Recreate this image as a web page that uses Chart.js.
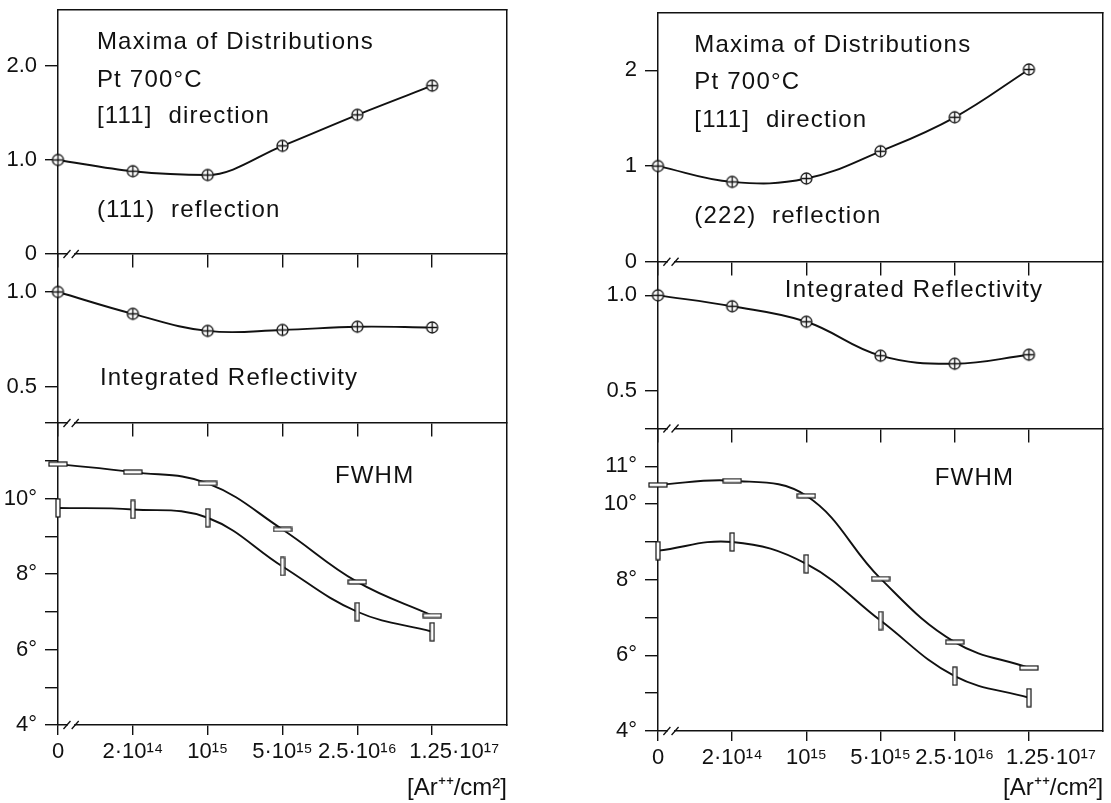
<!DOCTYPE html>
<html>
<head>
<meta charset="utf-8">
<script src="https://cdn.jsdelivr.net/npm/chart.js@4.4.1/dist/chart.umd.min.js"></script>
<style>
  html, body { margin: 0; padding: 0; background: #fff; }
  body { width: 1111px; height: 803px; position: relative; overflow: hidden; }
  canvas { position: absolute; top: 0; }
  #chartLeft { left: 0; }
  #chartRight { left: 600px; }
</style>
</head>
<body>
<canvas id="chartLeft" width="520" height="803"></canvas>
<canvas id="chartRight" width="511" height="803"></canvas>
<script>
// ==================== DADOS ====================
const doseLabels = ['0', '2·10¹⁴', '10¹⁵', '5·10¹⁵', '2.5·10¹⁶', '1.25·10¹⁷'];
const doseUnit = '[Ar⁺⁺/cm²]';

// (111) reflection - coluna esquerda
const maxima111 = [1.0, 0.88, 0.84, 1.15, 1.48, 1.79];
const reflect111 = [1.0, 0.885, 0.795, 0.80, 0.817, 0.813];
const fwhmUpper111 = [10.91, 10.70, 10.40, 9.18, 7.79, 6.90];
const fwhmLower111 = [9.75, 9.71, 9.49, 8.2, 7.0, 6.47];

// (222) reflection - coluna direita
const maxima222 = [1.0, 0.835, 0.87, 1.155, 1.51, 2.01];
const reflect222 = [1.0, 0.943, 0.862, 0.685, 0.643, 0.69];
const fwhmUpper222 = [10.51, 10.62, 10.22, 8.03, 6.35, 5.67];
const fwhmLower222 = [8.77, 9.0, 8.42, 6.92, 5.45, 4.88];

// ticks dos eixos y
const maximaTicks = [0, 1, 2];
const maximaLabels111 = ['0', '1.0', '2.0'];
const maximaLabels222 = ['0', '1', '2'];
const reflectTicks = [0.5, 1.0];
const reflectLabels = ['0.5', '1.0'];
const fwhmTicks = [4, 5, 6, 7, 8, 9, 10, 11];
const fwhmLabels111 = ['4°', '', '6°', '', '8°', '', '10°', ''];
const fwhmLabels222 = ['4°', '', '6°', '', '8°', '', '10°', '11°'];

// ==================== ESTILO ====================
const FONT = '"Liberation Sans", Arial, sans-serif';
const INK = '#111';

function markerCirclePlus() {
    const c = document.createElement('canvas');
    c.width = 15; c.height = 15;
    const g = c.getContext('2d');
    g.fillStyle = '#fff'; g.strokeStyle = INK; g.lineWidth = 1.3;
    g.beginPath(); g.arc(7.5, 7.5, 5.5, 0, Math.PI * 2); g.fill(); g.stroke();
    g.beginPath();
    g.moveTo(2.5, 7.5); g.lineTo(12.5, 7.5);
    g.moveTo(7.5, 2.5); g.lineTo(7.5, 12.5);
    g.stroke();
    return c;
}

function markerBar(w, h) {
    const c = document.createElement('canvas');
    c.width = w + 2; c.height = h + 2;
    const g = c.getContext('2d');
    g.fillStyle = '#fff'; g.strokeStyle = INK; g.lineWidth = 1.2;
    g.fillRect(1, 1, w, h); g.strokeRect(1, 1, w, h);
    return c;
}

const circlePlus = markerCirclePlus();
const barFlat = markerBar(18, 4);
const barTall = markerBar(4, 18);

// ==================== PLUGIN: TEXTOS E QUEBRAS ====================
const notesPlugin = {
    id: 'notes',
    afterDraw(chart, args, opts) {
        const { ctx, scales } = chart;
        const x = scales.x;
        ctx.save();
        // marcas '//' nas linhas de base de cada painel
        ['yTop', 'yMid', 'yBot'].forEach(id => {
            const yPix = scales[id].bottom;
            const xa = x.getPixelForValue(0.12), xb = x.getPixelForValue(0.23);
            ctx.fillStyle = '#fff';
            ctx.fillRect(xa + 1, yPix - 2, xb - xa - 2, 4);
            ctx.strokeStyle = INK; ctx.lineWidth = 1.3;
            ctx.beginPath();
            [xa, xb].forEach(p => { ctx.moveTo(p - 3.5, yPix + 4); ctx.lineTo(p + 3.5, yPix - 4); });
            ctx.stroke();
        });
        ctx.fillStyle = INK;
        ctx.font = `24px ${FONT}`;
        ctx.letterSpacing = '1.2px';
        ctx.textAlign = 'left';
        ctx.textBaseline = 'alphabetic';
        opts.notes.forEach(n => {
            ctx.fillText(n.text, x.getPixelForValue(n.x), scales[n.axis].getPixelForValue(n.y));
        });
        ctx.restore();
    }
};

// ==================== MONTAGEM DE UMA COLUNA ====================
function buildColumn(canvasId, col) {
    const tickFont = { family: FONT, size: 22 };
    const series = (values, axis, marker, mode) => ({
        data: values.map((v, i) => ({ x: i, y: v })),
        xAxisID: 'x', yAxisID: axis,
        borderColor: INK, borderWidth: 1.9, tension: 0.4, fill: false,
        cubicInterpolationMode: mode || 'default',
        clip: false,
        pointStyle: marker, pointRadius: 6, pointHoverRadius: 6
    });
    const yScale = (range, values, labels, weight, stackWeight) => ({
        type: 'linear', position: 'left', stack: 'col', stackWeight, weight,
        min: range[0], max: range[1],
        afterBuildTicks: s => { s.ticks = values.map(v => ({ value: v })); },
        afterFit: s => { s.width = col.axisWidth; s.paddingTop = 0; s.paddingBottom = 0; },
        ticks: { callback: (v, i) => labels[i], font: tickFont, color: INK, padding: 8, autoSkip: false },
        grid: { drawOnChartArea: false, tickLength: 13, color: INK, lineWidth: 1.4 },
        border: { color: INK, width: 1.5 }
    });
    const sepAxis = (axisId, value, ticks) => ({
        type: 'linear', position: { [axisId]: value }, min: 0, max: 6,
        afterBuildTicks: s => { s.ticks = ticks ? doseLabels.map((_, i) => ({ value: i })) : []; },
        ticks: { display: false },
        grid: { drawOnChartArea: false, drawTicks: ticks, tickLength: 13, color: INK, lineWidth: 1.4 },
        border: { color: INK, width: 1.5 }
    });
    // o último rótulo fica deslocado para a direita no original
    const doseTick = (v, i) => i === doseLabels.length - 1 ? '\u2003\u2003' + doseLabels[i] : doseLabels[i];

    return new Chart(document.getElementById(canvasId), {
        type: 'line',
        data: {
            datasets: [
                series(col.maxima, 'yTop', circlePlus, col.maximaMode),
                series(col.reflect, 'yMid', circlePlus),
                series(col.fwhmUpper, 'yBot', barFlat),
                series(col.fwhmLower, 'yBot', barTall)
            ]
        },
        plugins: [notesPlugin],
        options: {
            responsive: false,
            devicePixelRatio: 1,
            animation: false,
            events: [],
            layout: { padding: { top: col.padTop, right: col.padRight, left: 0, bottom: 0 } },
            plugins: {
                legend: { display: false },
                tooltip: { enabled: false },
                notes: { notes: col.notes }
            },
            scales: {
                x: {
                    type: 'linear', position: 'bottom', min: 0, max: 6,
                    afterBuildTicks: s => { s.ticks = doseLabels.map((_, i) => ({ value: i })); },
                    afterFit: s => { s.height = col.xHeight; s.paddingLeft = 0; s.paddingRight = 0; },
                    ticks: {
                        callback: doseTick, font: tickFont, color: INK,
                        padding: 4, maxRotation: 0, autoSkip: false
                    },
                    grid: { drawOnChartArea: false, tickLength: 10, color: INK, lineWidth: 1.4 },
                    border: { color: INK, width: 1.5 },
                    title: {
                        display: true, text: doseUnit, align: 'end', color: INK,
                        font: { family: FONT, size: 24 }, padding: { top: 0, bottom: 0 }
                    }
                },
                yBot: yScale([4, 12], fwhmTicks, col.fwhmLabels, 1, col.weights[2]),
                yMid: yScale(col.reflectRange, [col.reflectRange[0]].concat(reflectTicks), [''].concat(reflectLabels), 2, col.weights[1]),
                yTop: yScale([0, 2.6], maximaTicks, col.maximaLabels, 3, col.weights[0]),
                xSepTop: sepAxis('yTop', 0, true),
                xSepMid: sepAxis('yMid', col.reflectRange[0], true),
                xFrameTop: sepAxis('yTop', 2.6, false),
                yFrameRight: {
                    type: 'linear', position: { x: 6 }, min: 0, max: 1,
                    afterBuildTicks: s => { s.ticks = []; },
                    ticks: { display: false },
                    grid: { drawOnChartArea: false, drawTicks: false, color: INK },
                    border: { color: INK, width: 1.5 }
                }
            }
        }
    });
}

// ==================== GRÁFICOS ====================
buildColumn('chartLeft', {
    maxima: maxima111, reflect: reflect111, fwhmUpper: fwhmUpper111, fwhmLower: fwhmLower111,
    maximaLabels: maximaLabels111, fwhmLabels: fwhmLabels111, maximaMode: 'monotone',
    reflectRange: [0.31, 1.2],
    weights: [244.5, 169, 302],
    axisWidth: 58, padTop: 9.5, padRight: 13, xHeight: 78,
    notes: [
        { axis: 'yTop', x: 0.52, y: 2.18, text: 'Maxima of Distributions' },
        { axis: 'yTop', x: 0.52, y: 1.78, text: 'Pt 700°C' },
        { axis: 'yTop', x: 0.52, y: 1.39, text: '[111]  direction' },
        { axis: 'yTop', x: 0.52, y: 0.39, text: '(111)  reflection' },
        { axis: 'yMid', x: 0.56, y: 0.51, text: 'Integrated Reflectivity' },
        { axis: 'yBot', x: 3.7, y: 10.42, text: 'FWHM' }
    ]
});

buildColumn('chartRight', {
    maxima: maxima222, reflect: reflect222, fwhmUpper: fwhmUpper222, fwhmLower: fwhmLower222,
    maximaLabels: maximaLabels222, fwhmLabels: fwhmLabels222,
    reflectRange: [0.305, 1.175],
    weights: [248.8, 166.7, 302.5],
    axisWidth: 58, padTop: 13, padRight: 1, xHeight: 72,
    notes: [
        { axis: 'yTop', x: 0.49, y: 2.19, text: 'Maxima of Distributions' },
        { axis: 'yTop', x: 0.49, y: 1.81, text: 'Pt 700°C' },
        { axis: 'yTop', x: 0.49, y: 1.41, text: '[111]  direction' },
        { axis: 'yTop', x: 0.49, y: 0.41, text: '(222)  reflection' },
        { axis: 'yMid', x: 1.71, y: 0.99, text: 'Integrated Reflectivity' },
        { axis: 'yBot', x: 3.73, y: 10.51, text: 'FWHM' }
    ]
});
</script>
</body>
</html>
